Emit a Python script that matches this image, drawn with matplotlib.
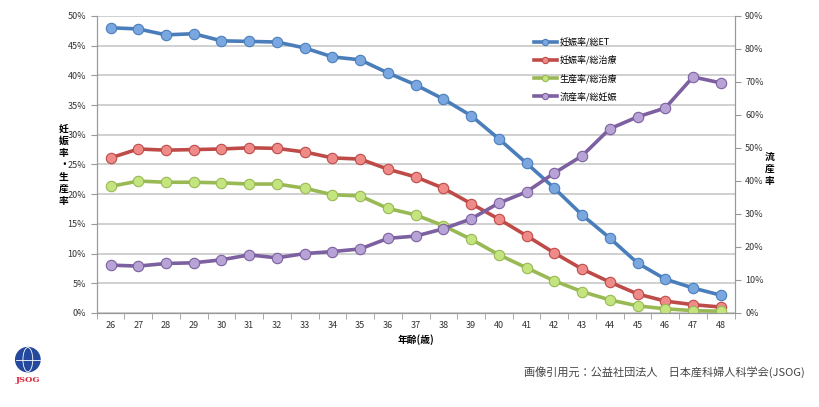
import matplotlib
matplotlib.use("Agg")
from matplotlib import pyplot as plt
from matplotlib.patches import Circle, Ellipse
from matplotlib.ticker import FuncFormatter, MultipleLocator

plt.rcParams['font.family'] = ['Noto Sans CJK JP', 'DejaVu Sans']

ages = list(range(26, 49))
preg_et = [48.0, 47.8, 46.8, 47.0, 45.8, 45.7, 45.6, 44.6, 43.1, 42.6, 40.4, 38.4,
           36.0, 33.2, 29.3, 25.2, 21.0, 16.5, 12.6, 8.4, 5.7, 4.2, 3.0]
preg_tx = [26.1, 27.6, 27.4, 27.5, 27.6, 27.8, 27.7, 27.1, 26.1, 25.9, 24.2, 22.9,
           21.0, 18.4, 15.8, 13.0, 10.1, 7.4, 5.2, 3.2, 2.0, 1.4, 1.0]
birth_tx = [21.3, 22.2, 22.0, 22.0, 21.9, 21.7, 21.7, 21.0, 19.9, 19.7, 17.6, 16.5,
            14.7, 12.4, 9.8, 7.6, 5.4, 3.6, 2.2, 1.2, 0.7, 0.4, 0.3]
misc_preg = [14.5, 14.2, 15.0, 15.2, 16.1, 17.6, 16.7, 18.0, 18.6, 19.4, 22.6, 23.3,
             25.5, 28.5, 33.3, 36.7, 42.4, 47.6, 55.8, 59.4, 62.1, 71.5, 69.7]

names = ["妊娠率/総ET", "妊娠率/総治療", "生産率/総治療", "流産率/総妊娠"]
line_cols = ["#4A7EBB", "#BE4B48", "#98B954", "#7D60A0"]
mark_cols = ["#7BA7E0", "#EE8A87", "#C3E47E", "#B7A3D6"]

fig = plt.figure(figsize=(8.19, 4.07), dpi=100)
ax = fig.add_axes([0.118, 0.231, 0.779, 0.730])
ax2 = ax.twinx()

x = list(range(len(ages)))
handles = []
for i, ys in enumerate([preg_et, preg_tx, birth_tx]):
    h, = ax.plot(x, ys, color=line_cols[i], lw=2.6, marker="o", ms=7.5,
                 mfc=mark_cols[i], mec=line_cols[i], mew=0.8, zorder=3)
    handles.append(h)
h, = ax2.plot(x, misc_preg, color=line_cols[3], lw=2.6, marker="o", ms=7.5,
              mfc=mark_cols[3], mec=line_cols[3], mew=0.8, zorder=3)
handles.append(h)

ax.set_xlim(-0.5, len(ages) - 0.5)
ax.set_ylim(0, 50)
ax2.set_ylim(0, 90)
ax.yaxis.set_major_locator(MultipleLocator(5))
ax2.yaxis.set_major_locator(MultipleLocator(10))
pct = FuncFormatter(lambda v, p: f"{v:.0f}%")
ax.yaxis.set_major_formatter(pct)
ax2.yaxis.set_major_formatter(pct)
ax.grid(axis="y", color="#C8C8C8", lw=1.2)
ax.set_axisbelow(True)

ax.set_xticks(x)
ax.set_xticklabels([str(a) for a in ages])
ax.set_xticks([v - 0.5 for v in range(len(ages) + 1)], minor=True)
ax.tick_params(axis="x", which="major", length=0, labelsize=6.5, colors="#333333", pad=6)
ax.tick_params(axis="x", which="minor", length=4, color="#999999")
ax.tick_params(axis="y", labelsize=6.5, colors="#333333", length=4, color="#999999")
ax2.tick_params(axis="y", labelsize=6.5, colors="#333333", length=4, color="#999999")

for a in (ax, ax2):
    a.spines["top"].set_visible(False)
    for s in ("left", "right", "bottom"):
        a.spines[s].set_color("#999999")

ax.set_xlabel("年齢(歳)", fontsize=7, fontweight="bold", labelpad=3)
fig.text(0.078, 0.595, "妊\n娠\n率\n・\n生\n産\n率", fontsize=7, fontweight="bold",
         ha="center", va="center", linespacing=1.25)
fig.text(0.940, 0.585, "流\n産\n率", fontsize=7, fontweight="bold",
         ha="center", va="center", linespacing=1.25)

leg = ax.legend(handles, names, loc="upper left", bbox_to_anchor=(0.673, 0.955),
                frameon=False, fontsize=6.5, handlelength=2.5, labelspacing=0.95,
                handletextpad=0.3, markerscale=0.6)

# caption and logo
fig.text(0.983, 0.085, "画像引用元：公益社団法人　日本産科婦人科学会(JSOG)", fontsize=8,
         color="#444444", ha="right", va="center")
lax = fig.add_axes([0.010, 0.03, 0.048, 0.12])
lax.set_xlim(-1, 1)
lax.set_ylim(-1.5, 1)
lax.axis("off")
lax.add_patch(Circle((0, 0.3), 0.62, color="#23489C"))
lax.add_patch(Ellipse((0, 0.3), 0.5, 1.24, fill=False, ec="white", lw=0.6))
lax.plot([-0.62, 0.62], [0.3, 0.3], color="white", lw=0.6)
lax.text(0, -0.75, "JSOG", color="#D8283C", fontsize=6, fontweight="bold",
         ha="center", va="center", family="DejaVu Serif")

fig.savefig("out.png", dpi=100)
